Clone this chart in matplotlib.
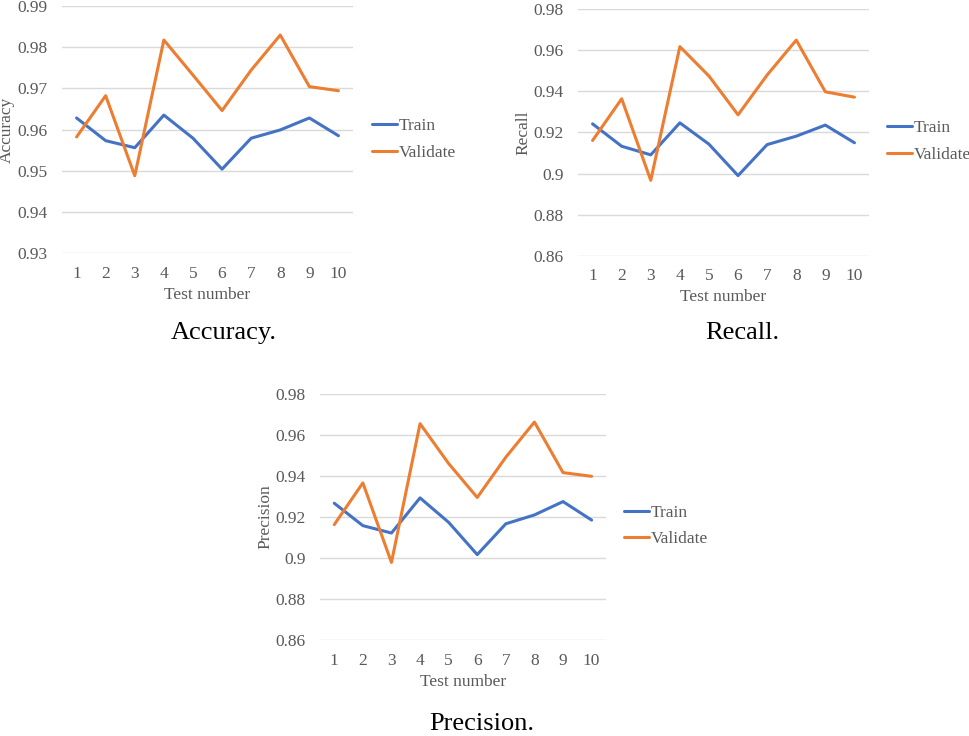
"""Train / validate metrics over ten test runs, three small line charts."""

import matplotlib

matplotlib.use("Agg")
import matplotlib.pyplot as plt

test_numbers = [1, 2, 3, 4, 5, 6, 7, 8, 9, 10]

accuracy_train = [0.9628, 0.9573, 0.9556, 0.9635, 0.9579, 0.9504, 0.9579, 0.9599, 0.9628, 0.9585]
accuracy_validate = [0.9582, 0.9682, 0.9488, 0.9817, 0.9732, 0.9646, 0.9744, 0.9829, 0.9704, 0.9694]

recall_train = [0.9242, 0.9133, 0.9091, 0.9247, 0.9143, 0.8990, 0.9141, 0.9182, 0.9236, 0.9150]
recall_validate = [0.9161, 0.9364, 0.8967, 0.9618, 0.9475, 0.9286, 0.9480, 0.9650, 0.9398, 0.9372]

precision_train = [0.9267, 0.9158, 0.9122, 0.9293, 0.9174, 0.9017, 0.9167, 0.9210, 0.9275, 0.9185]
precision_validate = [0.9163, 0.9366, 0.8979, 0.9654, 0.9460, 0.9295, 0.9491, 0.9662, 0.9416, 0.9398]

acc_ticks = [0.93, 0.94, 0.95, 0.96, 0.97, 0.98, 0.99]
acc_tick_labels = ["0.93", "0.94", "0.95", "0.96", "0.97", "0.98", "0.99"]
pr_ticks = [0.86, 0.88, 0.90, 0.92, 0.94, 0.96, 0.98]
pr_tick_labels = ["0.86", "0.88", "0.9", "0.92", "0.94", "0.96", "0.98"]

BLUE = "#4472C4"
ORANGE = "#ED7D31"
GRAY_TEXT = "#595959"
GRID = "#D9D9D9"

plt.rcParams["font.family"] = ["Liberation Serif", "DejaVu Serif"]

fig = plt.figure(figsize=(9.69, 7.36), dpi=100)


def draw_panel(rect, train, validate, ticks, tick_labels, ylabel, legend_anchor):
    ax = fig.add_axes(rect)
    ax.plot(test_numbers, train, color=BLUE, lw=2.2, label="Train",
            solid_joinstyle="round", solid_capstyle="round")
    ax.plot(test_numbers, validate, color=ORANGE, lw=2.2, label="Validate",
            solid_joinstyle="round", solid_capstyle="round")
    ax.set_xlim(0.5, 10.5)
    ax.set_ylim(ticks[0], ticks[-1])
    ax.set_yticks(ticks)
    ax.set_yticklabels(tick_labels)
    ax.set_xticks(test_numbers)
    ax.set_xticklabels([str(n) for n in test_numbers])
    for y in ticks:
        ax.axhline(y, color=GRID, lw=1.0, zorder=0)
    for side in ax.spines.values():
        side.set_visible(False)
    ax.tick_params(length=0, labelsize=12.5, colors=GRAY_TEXT)
    ax.tick_params(axis="y", pad=10.5)
    ax.tick_params(axis="x", pad=9)
    ax.set_xlabel("Test number", fontsize=12.5, color=GRAY_TEXT, labelpad=3.5)
    ax.set_ylabel(ylabel, fontsize=12.5, color=GRAY_TEXT, labelpad=1.5)
    ax.legend(loc="center left", bbox_to_anchor=legend_anchor, frameon=False,
              fontsize=12.5, labelcolor=GRAY_TEXT, handlelength=1.45,
              handletextpad=0.1, labelspacing=0.6, borderpad=0, borderaxespad=0)
    return ax


draw_panel([0.0640, 0.6558, 0.3003, 0.3364], accuracy_train, accuracy_validate,
           acc_ticks, acc_tick_labels, "Accuracy", (1.064, 0.46))
draw_panel([0.5965, 0.6526, 0.3003, 0.3348], recall_train, recall_validate,
           pr_ticks, pr_tick_labels, "Recall", (1.061, 0.464))
draw_panel([0.3302, 0.1300, 0.2951, 0.3351], precision_train, precision_validate,
           pr_ticks, pr_tick_labels, "Precision", (1.063, 0.464))

fig.text(224 / 969, 1 - 333 / 736, "Accuracy.", fontsize=19, color="black",
         ha="center", va="center")
fig.text(742 / 969, 1 - 333 / 736, "Recall.", fontsize=19, color="black",
         ha="center", va="center")
fig.text(482 / 969, 1 - 724 / 736, "Precision.", fontsize=19, color="black",
         ha="center", va="center")

fig.savefig("out.png", dpi=100)
plt.close(fig)
